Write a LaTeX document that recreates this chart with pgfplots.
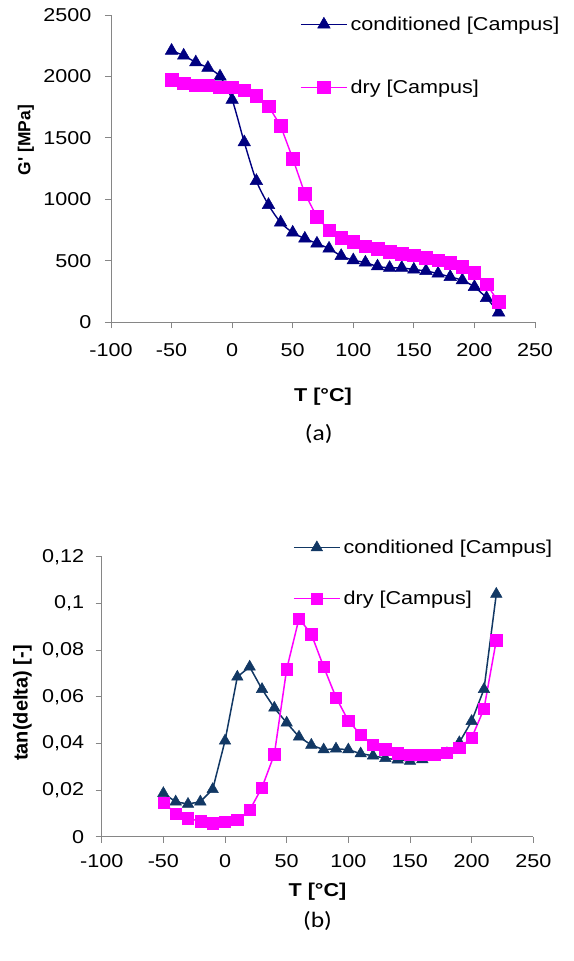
\documentclass[border=0pt]{standalone}
\usepackage{pgfplots}
\pgfplotsset{compat=1.18}
\usepackage{pgfplotstable}
\usepackage{fontspec}
\setmainfont[FakeStretch=1.16]{Liberation Sans}
\newfontfamily\vertfont{Liberation Sans}
\newfontfamily\capfont[FakeStretch=1.16]{Carlito}

\definecolor{navycond}{RGB}{0,0,128}
\definecolor{darkcond}{RGB}{18,56,100}
\definecolor{drymag}{RGB}{255,0,255}
\definecolor{axisgray}{RGB}{134,134,134}

% Storage modulus G' [MPa] versus temperature
\pgfplotstableread{
T G
-50 2210
-40 2170
-30 2115
-20 2070
-10 2000
0 1810
10 1465
20 1150
30 955
40 812
50 730
60 681
70 641
80 600
90 540
100 505
110 486
120 455
130 443
140 443
150 429
160 418
170 396
180 369
190 342
200 288
210 198
220 80
}\gcond

\pgfplotstableread{
T G
-50 1971
-40 1944
-30 1930
-20 1930
-10 1911
0 1911
10 1889
20 1843
30 1759
40 1598
50 1333
60 1048
70 857
80 749
90 690
100 654
110 619
120 600
130 573
140 559
150 546
160 527
170 505
180 483
190 451
200 405
210 309
220 165
}\gdry

% Loss factor tan(delta) versus temperature
\pgfplotstableread{
T D
-50 0.0186
-40 0.0150
-30 0.0140
-20 0.0150
-10 0.0203
0 0.0411
10 0.0685
20 0.0728
30 0.0632
40 0.0552
50 0.0488
60 0.0428
70 0.0393
80 0.0373
90 0.0377
100 0.0373
110 0.0356
120 0.0347
130 0.0336
140 0.0330
150 0.0324
160 0.0331
170 0.0340
180 0.0357
190 0.0404
200 0.0495
210 0.0632
220 0.1040
}\tcond

\pgfplotstableread{
T D
-50 0.0146
-40 0.0100
-30 0.0079
-20 0.0066
-10 0.0058
0 0.0064
10 0.0071
20 0.0114
30 0.0211
40 0.0353
50 0.0718
60 0.0935
70 0.0868
80 0.0728
90 0.0597
100 0.0497
110 0.0437
120 0.0394
130 0.0375
140 0.0358
150 0.0350
160 0.0350
170 0.0351
180 0.0360
190 0.0382
200 0.0423
210 0.0548
220 0.0842
}\tdry

\pgfplotsset{
  excelaxis/.style={
    scale only axis,
    anchor=south west,
    clip=false,
    axis lines=left,
    axis line style={draw=axisgray, line width=0.9pt, -},
    tick align=outside,
    major tick length=6pt,
    tick style={draw=axisgray, line width=0.9pt},
    xmin=-100, xmax=250,
    xtick={-100,-50,...,250},
    xticklabels={-100,-50,0,50,100,150,200,250},
    ticklabel style={font=\fontsize{18.6}{20}\selectfont},
    xlabel style={font=\fontsize{18.6}{20}\selectfont\bfseries},
    legend cell align=left,
    legend image code/.code={%
      \draw[mark repeat=2, mark phase=2] plot coordinates {(0pt,0pt) (23pt,0pt) (46pt,0pt)};},
  },
}

\begin{document}
\begin{tikzpicture}[x=1pt, y=1pt]
\useasboundingbox (0,0) rectangle (573,-961);

% (a) storage modulus
\begin{axis}[excelaxis,
  at={(111pt,-322.3pt)},
  width=424pt, height=307.3pt,
  ymin=0, ymax=2500,
  ytick={0,500,...,2500},
  yticklabels={0,500,1000,1500,2000,2500},
  xticklabel style={yshift=-12pt},
  yticklabel style={xshift=-10pt},
  xlabel={T [°C]},
  xlabel style={at={(axis description cs:0.5,0)}, anchor=center, yshift=-74pt},
  legend style={draw=none, fill=none, inner sep=0pt,
    at={(axis description cs:0.4458,1.004)}, anchor=north west,
    font=\fontsize{18.6}{20}\selectfont, row sep=42pt,
    nodes={inner sep=3pt}},
]
\addplot[navycond, line width=1.4pt, smooth, tension=0.45,
  mark=triangle*, mark size=7.2pt, mark options={fill=navycond, solid, line width=0.5pt}]
  table[x=T, y=G] {\gcond};
\addlegendentry{conditioned [Campus]}
\addplot[drymag, line width=1.4pt,
  mark=square*, mark size=6.3pt, mark options={fill=drymag, solid, line width=0.5pt}]
  table[x=T, y=G] {\gdry};
\addlegendentry{dry [Campus]}
\node[rotate=90, font=\fontsize{17.4}{19}\vertfont\bfseries]
  at (axis description cs:-0.2005,0.593) {G' [MPa]};
\node[font=\fontsize{22}{24}\capfont] at (axis description cs:0.49,0) [yshift=-112pt] {(a)};
\end{axis}

% (b) loss factor
\begin{axis}[excelaxis,
  at={(101.7pt,-836.7pt)},
  width=431.6pt, height=280pt,
  ymin=0, ymax=0.12,
  ytick={0,0.02,0.04,0.06,0.08,0.1,0.12},
  yticklabels={0,{0,02},{0,04},{0,06},{0,08},{0,1},{0,12}},
  xticklabel style={yshift=-8pt},
  yticklabel style={xshift=-8pt},
  xlabel={T [°C]},
  xlabel style={at={(axis description cs:0.5,0)}, anchor=center, yshift=-55pt},
  legend style={draw=none, fill=none, inner sep=0pt,
    at={(axis description cs:0.443,1.071)}, anchor=north west,
    font=\fontsize{18.6}{20}\selectfont, row sep=30pt,
    nodes={inner sep=3pt}},
]
\addplot[darkcond, line width=1.5pt,
  mark=triangle*, mark size=6.6pt, mark options={fill=darkcond, solid, line width=0.5pt}]
  table[x=T, y=D] {\tcond};
\addlegendentry{conditioned [Campus]}
\addplot[drymag, line width=1.5pt,
  mark=square*, mark size=5.6pt, mark options={fill=drymag, solid, line width=0.5pt}]
  table[x=T, y=D] {\tdry};
\addlegendentry{dry [Campus]}
\node[rotate=90, font=\fontsize{20}{22}\vertfont\bfseries]
  at (axis description cs:-0.1835,0.4775) {tan(delta) [-]};
\node[font=\fontsize{22}{24}\capfont] at (axis description cs:0.5,0) [yshift=-84pt] {(b)};
\end{axis}
\end{tikzpicture}
\end{document}
